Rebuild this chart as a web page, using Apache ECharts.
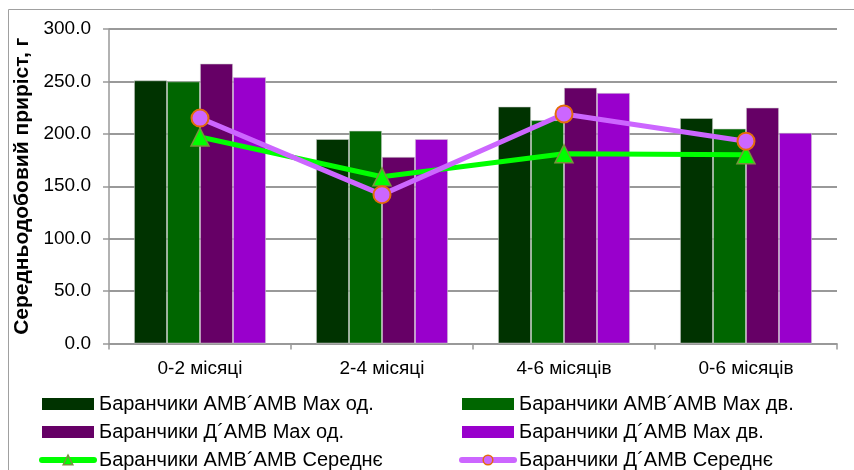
<!DOCTYPE html>
<html>
<head>
<meta charset="utf-8">
<script src="https://cdn.jsdelivr.net/npm/echarts@6/dist/echarts.min.js"></script>
<style>
  html, body { margin: 0; padding: 0; background: #fff; }
  #chart { width: 854px; height: 470px; }
</style>
</head>
<body>
<div id="chart"></div>
<script>
// Age periods on the category axis
var categories = ['0-2 місяці', '2-4 місяці', '4-6 місяців', '0-6 місяців'];

// Average daily gain, g
var ambMaxOd = [251, 195, 226, 215];
var ambMaxDv = [250, 203, 213, 205];
var dAmbMaxOd = [267, 178, 244, 225];
var dAmbMaxDv = [254, 195, 239, 201];
var ambMean = [197, 159, 181, 180];
var dAmbMean = [215, 142, 219, 193];

var yTicks = { min: 0, max: 300, interval: 50 };

var names = {
  ambMaxOd: 'Баранчики AMB´AMB Max од.',
  ambMaxDv: 'Баранчики AMB´AMB Max дв.',
  dAmbMaxOd: 'Баранчики Д´AMB Max од.',
  dAmbMaxDv: 'Баранчики Д´AMB Max дв.',
  ambMean: 'Баранчики AMB´AMB Середнє',
  dAmbMean: 'Баранчики Д´AMB Середнє'
};

var font = 'Liberation Sans, Arial, sans-serif';
var barBorder = 'rgba(210,210,210,0.7)';

function bar(name, data, color) {
  return {
    name: name, type: 'bar', data: data,
    barGap: '0%', barCategoryGap: '27.5%',
    itemStyle: { color: color, borderColor: barBorder, borderWidth: 0.8 }
  };
}

function barItem(name) { return { name: name, icon: 'rect', itemStyle: { borderWidth: 0 } }; }
function lineItem(name) {
  return { name: name, lineStyle: { width: 6, cap: 'round' }, itemStyle: { borderWidth: 1.5 } };
}

var chart = echarts.init(document.getElementById('chart'), null, { renderer: 'canvas' });

// Two vertical legend columns, three rows each
var legendCommon = {
  orient: 'vertical',
  top: 394,
  height: 80,
  padding: 0,
  itemWidth: 52,
  itemHeight: 12,
  itemGap: 8,
  textStyle: { fontFamily: font, fontSize: 20, color: '#000', lineHeight: 20 }
};

chart.setOption({
  animation: false,
  backgroundColor: '#fff',
  graphic: [{
    type: 'rect', left: 6, top: 7,
    shape: { width: 900, height: 520 },
    style: { fill: 'none', stroke: '#a0a0a0', lineWidth: 1 },
    silent: true
  }],
  grid: { left: 109, right: 17, top: 29, bottom: 126.5 },
  legend: [
    Object.assign({ left: 39, data: [barItem(names.ambMaxOd), barItem(names.dAmbMaxOd), lineItem(names.ambMean)] }, legendCommon),
    Object.assign({ left: 459, data: [barItem(names.ambMaxDv), barItem(names.dAmbMaxDv), lineItem(names.dAmbMean)] }, legendCommon)
  ],
  xAxis: {
    type: 'category',
    data: categories,
    axisLine: { lineStyle: { color: '#999', width: 1.5 } },
    axisTick: { show: true, length: 6, alignWithLabel: false, lineStyle: { color: '#999', width: 1.5 } },
    axisLabel: { fontFamily: font, fontSize: 19, color: '#000', margin: 16 }
  },
  yAxis: {
    type: 'value',
    min: yTicks.min, max: yTicks.max, interval: yTicks.interval,
    name: 'Середньодобовий приріст, г',
    nameLocation: 'middle',
    nameGap: 72,
    nameTextStyle: { fontFamily: font, fontSize: 21, fontWeight: 'bold', color: '#000' },
    axisLine: { show: true, lineStyle: { color: '#999', width: 1.5 } },
    axisTick: { show: true, length: 6, lineStyle: { color: '#999', width: 1.5 } },
    axisLabel: {
      fontFamily: font, fontSize: 19, color: '#000', margin: 18,
      formatter: function (v) { return v.toFixed(1); }
    },
    splitLine: { lineStyle: { color: '#999', width: 2 } }
  },
  series: [
    bar(names.ambMaxOd, ambMaxOd, '#003300'),
    bar(names.ambMaxDv, ambMaxDv, '#006600'),
    bar(names.dAmbMaxOd, dAmbMaxOd, '#660066'),
    bar(names.dAmbMaxDv, dAmbMaxDv, '#9900CC'),
    {
      name: names.ambMean, type: 'line', data: ambMean, z: 5,
      symbol: 'triangle', symbolSize: 18,
      lineStyle: { color: '#00FF00', width: 5 },
      itemStyle: { color: '#00FF00', borderColor: '#77933C', borderWidth: 1.5 }
    },
    {
      name: names.dAmbMean, type: 'line', data: dAmbMean, z: 6,
      symbol: 'circle', symbolSize: 17,
      lineStyle: { color: '#CC66FF', width: 5 },
      itemStyle: { color: '#CC66FF', borderColor: '#E46C0A', borderWidth: 2 }
    }
  ]
});
</script>
</body>
</html>
